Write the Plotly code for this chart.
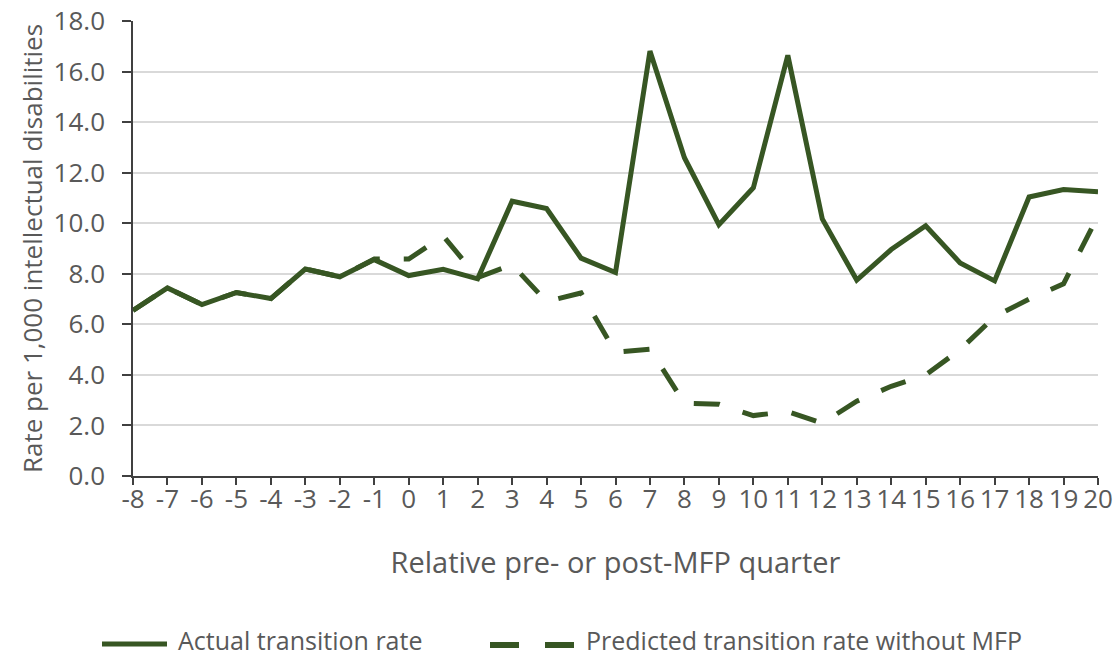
import plotly.graph_objects as go

quarters = list(range(-8, 21))
tick_labels = [str(q).replace("\u2212", "-") for q in quarters]
actual = [6.55, 7.44, 6.78, 7.26, 7.02, 8.19, 7.88, 8.56, 7.93, 8.18, 7.80,
          10.87, 10.58, 8.62, 8.05, 16.81, 12.59, 9.94, 11.40, 16.64,
          10.17, 7.75, 8.96, 9.90, 8.43, 7.72, 11.04, 11.33, 11.25]
predicted = [6.55, 7.44, 6.78, 7.26, 7.02, 8.19, 7.88, 8.58, 8.58, 9.50, 7.85,
             8.36, 6.90, 7.24, 4.90, 5.02, 2.88, 2.84, 2.39, 2.55,
             2.09, 2.96, 3.55, 4.00, 5.00, 6.30, 7.00, 7.60, 10.30]
series_names = ["Actual transition rate", "Predicted transition rate without MFP"]

green = "#375623"
grey = "#595959"
font = "Open Sans, Liberation Sans, sans-serif"

fig = go.Figure()
fig.add_trace(go.Scatter(x=quarters, y=actual, mode="lines", name=series_names[0],
                         line=dict(color=green, width=5), showlegend=False))
fig.add_trace(go.Scatter(x=quarters, y=predicted, mode="lines", name=series_names[1],
                         line=dict(color=green, width=5, dash="26px,24px"), showlegend=False))

# manual legend (paper coordinates relative to plot area: x0=133px, width 965px; y0=476px, height 455px)
def px_x(p):
    return (p - 133) / 965.0

def px_y(p):
    return (476 - p) / 455.0

shapes = [
    dict(type="line", xref="paper", yref="paper", x0=px_x(102), x1=px_x(167),
         y0=px_y(644), y1=px_y(644), line=dict(color=green, width=5)),
    dict(type="line", xref="paper", yref="paper", x0=px_x(490), x1=px_x(519),
         y0=px_y(645), y1=px_y(645), line=dict(color=green, width=6)),
    dict(type="line", xref="paper", yref="paper", x0=px_x(545), x1=px_x(574),
         y0=px_y(645), y1=px_y(645), line=dict(color=green, width=6)),
]
annotations = [
    dict(text=series_names[0], xref="paper", yref="paper", x=px_x(176), y=px_y(659),
         xanchor="left", yanchor="bottom", showarrow=False,
         font=dict(size=25, color=grey, family=font)),
    dict(text=series_names[1], xref="paper", yref="paper", x=px_x(584), y=px_y(659),
         xanchor="left", yanchor="bottom", showarrow=False,
         font=dict(size=25, color=grey, family=font)),
]

fig.update_layout(
    width=1119, height=662,
    margin=dict(l=133, r=21, t=21, b=186),
    paper_bgcolor="white", plot_bgcolor="white",
    font=dict(family=font, color=grey, size=25),
    showlegend=False,
    shapes=shapes,
    annotations=annotations,
)
fig.update_xaxes(range=[-8, 20], tickmode="array", tickvals=quarters, ticktext=tick_labels,
                 showgrid=False, zeroline=False, automargin=False,
                 showline=True, linecolor="#404040", linewidth=1.5,
                 ticks="outside", ticklen=7, tickcolor="#404040", tickwidth=1.5,
                 ticklabelstandoff=-8,
                 tickfont=dict(size=26, color=grey),
                 title=dict(text="Relative pre- or post-MFP quarter", standoff=38,
                            font=dict(size=29, color=grey)))
fig.update_yaxes(range=[0, 18], tickmode="linear", tick0=0, dtick=2, tickformat=".1f",
                 showgrid=True, gridcolor="#d9d9d9", gridwidth=1.5, zeroline=False,
                 automargin=False,
                 showline=True, linecolor="#404040", linewidth=1.5,
                 ticks="outside", ticklen=9, tickcolor="#404040", tickwidth=1.5,
                 ticklabelstandoff=12,
                 tickfont=dict(size=26, color=grey),
                 title=dict(text="Rate per 1,000 intellectual disabilities", standoff=4,
                            font=dict(size=26, color=grey)))

fig.write_html("out.html", config={"displayModeBar": False},
               post_script="document.body.style.margin='0';")
